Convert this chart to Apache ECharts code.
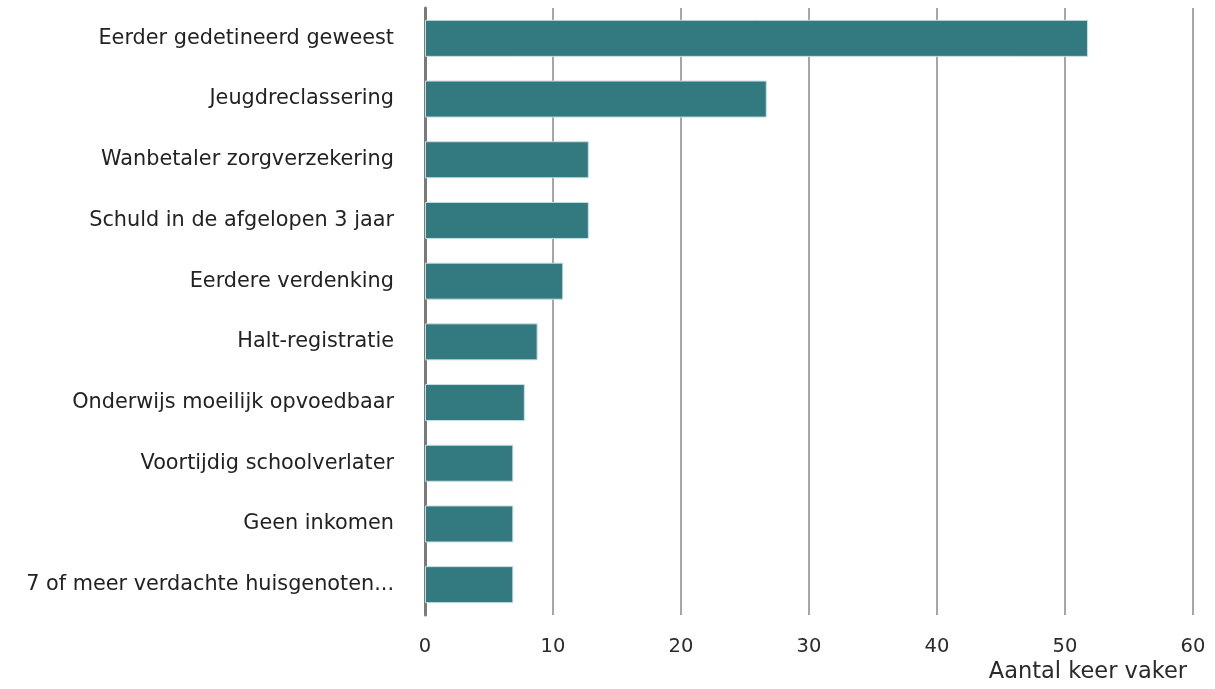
<!DOCTYPE html>
<html>
<head>
<meta charset="utf-8">
<style>
  html, body { margin: 0; padding: 0; background: #ffffff; }
  #chart { width: 1215px; height: 689px; }
</style>
<script src="https://cdn.jsdelivr.net/npm/echarts@6/dist/echarts.min.js"></script>
</head>
<body>
<div id="chart"></div>
<script>
// Risk indicators, listed top to bottom
const categories = [
  'Eerder gedetineerd geweest',
  'Jeugdreclassering',
  'Wanbetaler zorgverzekering',
  'Schuld in de afgelopen 3 jaar',
  'Eerdere verdenking',
  'Halt-registratie',
  'Onderwijs moeilijk opvoedbaar',
  'Voortijdig schoolverlater',
  'Geen inkomen',
  '7 of meer verdachte huisgenoten...'
];
// How many times more often
const values = [51.8, 26.7, 12.8, 12.8, 10.8, 8.8, 7.8, 6.9, 6.9, 6.9];
const axisTitle = 'Aantal keer vaker';

const chart = echarts.init(document.getElementById('chart'));
const font = 'DejaVu Sans';

chart.setOption({
  animation: false,
  grid: { left: 425, right: 22, top: 8, bottom: 74, containLabel: false },
  xAxis: {
    type: 'value',
    min: 0,
    max: 60,
    interval: 10,
    axisLine: { show: false },
    axisTick: { show: false },
    splitLine: { show: true, lineStyle: { color: '#a6a6a6', width: 2 } },
    axisLabel: { color: '#2a2a2a', fontFamily: font, fontSize: 19.5, margin: 22 },
    name: axisTitle,
    nameLocation: 'end',
    nameGap: -6,
    nameTextStyle: {
      color: '#2a2a2a', fontFamily: font, fontSize: 22.5,
      align: 'right', verticalAlign: 'top', padding: [46, 0, 0, 0]
    }
  },
  yAxis: {
    type: 'category',
    data: categories,
    inverse: true,
    axisLine: { show: true, lineStyle: { color: '#7a7a7a', width: 3 } },
    axisTick: { show: false },
    axisLabel: {
      color: '#222', fontFamily: font, fontSize: 20.8, margin: 31,
      padding: [5, 0, 0, 0]
    }
  },
  series: [{
    type: 'bar',
    data: values,
    barCategoryGap: '39%',
    itemStyle: { color: '#337a80', borderColor: '#c9dfe1', borderWidth: 1 }
  }]
});
</script>
</body>
</html>
